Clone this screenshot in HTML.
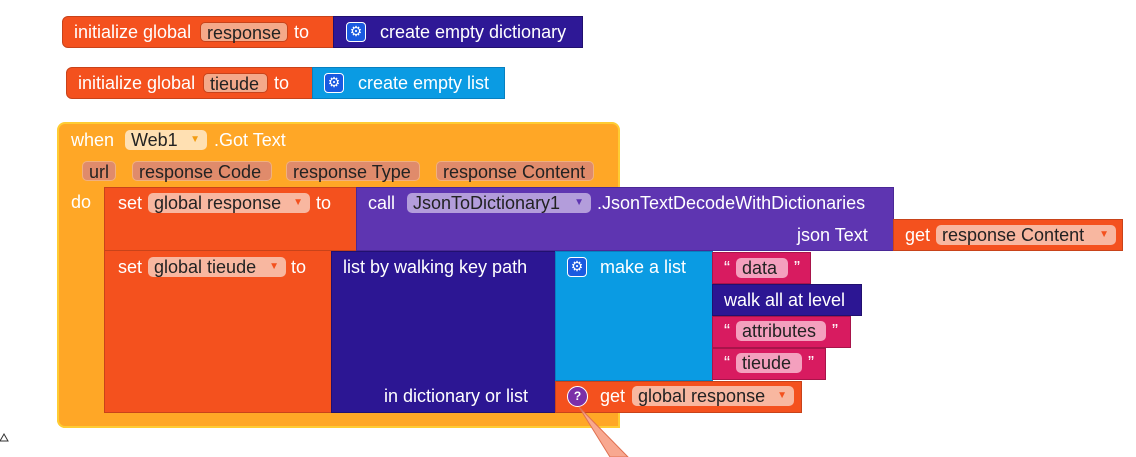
<!DOCTYPE html>
<html><head><meta charset="utf-8"><style>
body{margin:0;width:1136px;height:457px;background:#fff;position:relative;overflow:hidden;font-family:"Liberation Sans",sans-serif;font-size:18px;color:#fff}
.b{position:absolute;box-sizing:border-box}
.t{position:absolute;white-space:nowrap;line-height:20px}
.f{position:absolute;height:20px;line-height:20px;border-radius:5px;padding:0 6px;color:#222;box-sizing:border-box;white-space:nowrap}
.f span{font-size:10px;position:absolute;right:7px;top:0}
.or{background:#f4511e;border:1px solid #c8431a}
.g{position:absolute;width:20px;height:20px;border-radius:4px;background:#1a5ae0;border:1px solid #fff;box-sizing:border-box;text-align:center;line-height:17px;font-size:14px;color:#fff}
</style></head><body>
<div class="b or" style="left:62px;top:16px;width:272px;height:32px;border-radius:6px 0 0 6px"></div>
<div class="t" style="left:74px;top:22px">initialize global</div>
<div class="f" style="left:200px;top:22px;width:88px;background:#f4a98a;border:1px solid #c8431a">response</div>
<div class="t" style="left:294px;top:22px">to</div>
<div class="b" style="left:333px;top:16px;width:250px;height:32px;background:#2e1896;border:1px solid #21106f"></div>
<div class="g" style="left:346px;top:22px">⚙</div>
<div class="t" style="left:380px;top:22px">create empty dictionary</div>
<div class="b or" style="left:66px;top:67px;width:247px;height:32px;border-radius:6px 0 0 6px"></div>
<div class="t" style="left:78px;top:73px">initialize global</div>
<div class="f" style="left:203px;top:73px;width:65px;background:#f4a98a;border:1px solid #c8431a">tieude</div>
<div class="t" style="left:274px;top:73px">to</div>
<div class="b" style="left:312px;top:67px;width:193px;height:32px;background:#0a9be3;border:1px solid #0780c0"></div>
<div class="g" style="left:324px;top:73px">⚙</div>
<div class="t" style="left:358px;top:73px">create empty list</div>
<div class="b" style="left:57px;top:122px;width:563px;height:306px;background:#ffa726;border:2px solid #ffcc33;border-radius:8px"></div>
<div class="b" style="left:104px;top:187px;width:516px;height:226px;background:#fff"></div>
<div class="b" style="left:104px;top:412px;width:516px;height:16px;background:#ffa726;border-bottom:2px solid #ffcc33;border-right:2px solid #ffcc33"></div>
<div class="b" style="left:57px;top:187px;width:48px;height:241px;background:#ffa726;border-left:2px solid #ffcc33;border-bottom:2px solid #ffcc33;border-radius:0 0 0 8px"></div>
<div class="t" style="left:71px;top:130px">when</div>
<div class="f" style="left:125px;top:130px;width:82px;background:#ffe0b2">Web1 <span style="color:#f39c12">▼</span></div>
<div class="t" style="left:214px;top:130px">.Got Text</div>
<div class="f" style="left:82px;top:161px;width:34px;background:#e08b6b;border:1px solid #f0b080">url</div>
<div class="f" style="left:132px;top:161px;width:140px;background:#e08b6b;border:1px solid #f0b080">response Code</div>
<div class="f" style="left:286px;top:161px;width:134px;background:#e08b6b;border:1px solid #f0b080">response Type</div>
<div class="f" style="left:436px;top:161px;width:158px;background:#e08b6b;border:1px solid #f0b080">response Content</div>
<div class="t" style="left:71px;top:192px">do</div>
<div class="b or" style="left:104px;top:187px;width:253px;height:64px"></div>
<div class="t" style="left:118px;top:193px">set</div>
<div class="f" style="left:148px;top:193px;width:162px;background:#f8b7a0">global response <span style="color:#f4511e">▼</span></div>
<div class="t" style="left:316px;top:193px">to</div>
<div class="b" style="left:356px;top:187px;width:538px;height:64px;background:#5e35b1;border:1px solid #4a2896"></div>
<div class="t" style="left:368px;top:193px">call</div>
<div class="f" style="left:407px;top:193px;width:184px;background:#b39ddb">JsonToDictionary1 <span style="color:#5e35b1">▼</span></div>
<div class="t" style="left:597px;top:193px">.JsonTextDecodeWithDictionaries</div>
<div class="t" style="left:797px;top:225px">json Text</div>
<div class="b or" style="left:893px;top:219px;width:230px;height:32px"></div>
<div class="t" style="left:905px;top:225px">get</div>
<div class="f" style="left:936px;top:225px;width:180px;background:#f8b7a0">response Content <span style="color:#f4511e">▼</span></div>
<div class="b or" style="left:104px;top:250px;width:228px;height:163px"></div>
<div class="t" style="left:118px;top:257px">set</div>
<div class="f" style="left:148px;top:257px;width:138px;background:#f8b7a0">global tieude <span style="color:#f4511e">▼</span></div>
<div class="t" style="left:291px;top:257px">to</div>
<div class="b" style="left:331px;top:251px;width:225px;height:162px;background:#2c1693;border:1px solid #21106f"></div>
<div class="t" style="left:343px;top:257px">list by walking key path</div>
<div class="t" style="left:384px;top:386px">in dictionary or list</div>
<div class="b" style="left:555px;top:251px;width:158px;height:130px;background:#0a9be3;border:1px solid #0780c0"></div>
<div class="g" style="left:567px;top:257px">⚙</div>
<div class="t" style="left:600px;top:257px">make a list</div>
<div class="b" style="left:712px;top:252px;width:99px;height:32px;background:#d81b60;border:1px solid #a8144a"></div>
<div class="t" style="left:724px;top:258px">“</div>
<div class="f" style="left:736px;top:258px;width:52px;background:#f4a0be">data</div>
<div class="t" style="left:794px;top:258px">”</div>
<div class="b" style="left:712px;top:284px;width:150px;height:32px;background:#2c1693;border:1px solid #21106f"></div>
<div class="t" style="left:724px;top:290px">walk all at level</div>
<div class="b" style="left:712px;top:316px;width:139px;height:32px;background:#d81b60;border:1px solid #a8144a"></div>
<div class="t" style="left:724px;top:321px">“</div>
<div class="f" style="left:736px;top:321px;width:90px;background:#f4a0be">attributes</div>
<div class="t" style="left:832px;top:321px">”</div>
<div class="b" style="left:712px;top:348px;width:114px;height:32px;background:#d81b60;border:1px solid #a8144a"></div>
<div class="t" style="left:724px;top:353px">“</div>
<div class="f" style="left:736px;top:353px;width:66px;background:#f4a0be">tieude</div>
<div class="t" style="left:808px;top:353px">”</div>
<div class="b or" style="left:555px;top:381px;width:247px;height:32px"></div>
<div class="b" style="left:567px;top:386px;width:21px;height:21px;border-radius:50%;background:#7b2fa8;border:1px solid #fff;text-align:center;font-size:12px;line-height:19px;font-weight:bold">?</div>
<div class="t" style="left:600px;top:386px">get</div>
<div class="f" style="left:632px;top:386px;width:162px;background:#f8b7a0">global response <span style="color:#f4511e">▼</span></div>
<svg style="position:absolute;left:0;top:0" width="1136" height="457"><polygon points="579,407 610,457 628,457" fill="#f8a890" stroke="#e07050"/><polygon points="0,441 8,441 4,434" fill="none" stroke="#333"/></svg>
</body></html>
